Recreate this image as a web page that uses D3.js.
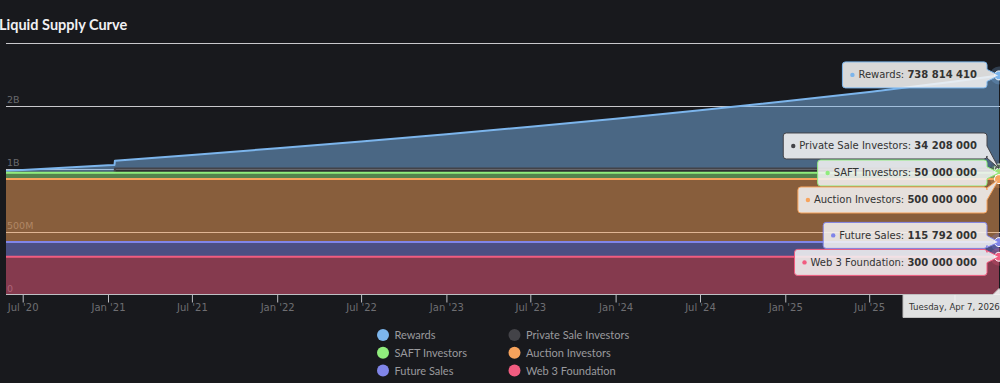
<!DOCTYPE html>
<html>
<head>
<meta charset="utf-8">
<script src="https://cdn.jsdelivr.net/npm/d3@7"></script>
<style>
  html, body { margin: 0; padding: 0; background: #18191d; }
  svg { display: block; }
</style>
</head>
<body>
<div id="chart"></div>
<script>
// series names, bottom row of legend reads left to right
var seriesNames = ["Rewards", "Private Sale Investors", "SAFT Investors",
                   "Auction Investors", "Future Sales", "Web 3 Foundation"];
var seriesColors = ["#7cb5ec", "#434348", "#90ed7d", "#f7a35c", "#8085e9", "#f15c80"];

// sample dates
var dates = ["2020-05-26", "2020-07-01", "2021-01-01", "2021-01-15", "2021-01-16",
             "2021-07-01", "2022-01-01", "2022-07-01", "2023-01-01", "2023-07-01",
             "2024-01-01", "2024-07-01", "2025-01-01", "2025-07-01", "2026-01-01",
             "2026-04-07"];

// values (tokens) at each date
var rewards      = [15e6, 22e6, 60e6, 62e6, 62e6, 108e6, 160e6, 215e6, 272e6, 332e6,
                    395e6, 462e6, 533e6, 607e6, 690e6, 738814410];
var privateSale  = [0, 0, 0, 0, 34208000, 34208000, 34208000, 34208000, 34208000, 34208000,
                    34208000, 34208000, 34208000, 34208000, 34208000, 34208000];
var saft         = [50e6, 50e6, 50e6, 50e6, 50e6, 50e6, 50e6, 50e6, 50e6, 50e6,
                    50e6, 50e6, 50e6, 50e6, 50e6, 50e6];
var auction      = [500e6, 500e6, 500e6, 500e6, 500e6, 500e6, 500e6, 500e6, 500e6, 500e6,
                    500e6, 500e6, 500e6, 500e6, 500e6, 500e6];
var futureSales  = [115792000, 115792000, 115792000, 115792000, 115792000, 115792000,
                    115792000, 115792000, 115792000, 115792000, 115792000, 115792000,
                    115792000, 115792000, 115792000, 115792000];
var web3         = [300e6, 300e6, 300e6, 300e6, 300e6, 300e6, 300e6, 300e6, 300e6, 300e6,
                    300e6, 300e6, 300e6, 300e6, 300e6, 300e6];

// y ticks and their (odd) labels as shown
var yTicks = [0, 500e6, 1e9, 1.5e9, 2e9];
var yTickLabels = ["0", "500M", "1B", "2B", ""];

var W = 1000, H = 383;
var parseDate = d3.timeParse("%Y-%m-%d");
var allValues = [rewards, privateSale, saft, auction, futureSales, web3];

// build table for stacking
var table = dates.map(function(d, i){
  var row = {date: parseDate(d)};
  seriesNames.forEach(function(n, k){ row[n] = allValues[k][i]; });
  return row;
});

var x = d3.scaleTime()
  .domain(d3.extent(table, function(d){ return d.date; }))
  .range([6, 999]);
var y = d3.scaleLinear().domain([0, 2e9]).range([294.5, 42.5]);

var svg = d3.select("#chart").append("svg")
  .attr("width", W).attr("height", H)
  .style("background", "#18191d");

// title
svg.append("text")
  .attr("x", -1).attr("y", 30)
  .attr("fill", "#f0f0f3")
  .style("font", "700 14.5px Lato, sans-serif")
  .text("Liquid Supply Curve");

// grid lines + y labels (under the areas)
var grid = svg.append("g");
grid.selectAll("line").data(yTicks).enter().append("line")
  .attr("x1", 6).attr("x2", W)
  .attr("y1", function(d){ return Math.round(y(d)) + 0.5; })
  .attr("y2", function(d){ return Math.round(y(d)) + 0.5; })
  .attr("stroke", function(d){ return d === 0 ? "none" : "#c8c8cc"; })
  .attr("stroke-width", 1);
grid.selectAll("text").data(yTicks).enter().append("text")
  .attr("x", 7).attr("y", function(d){ return y(d) - 2.5; })
  .attr("fill", "#6a6a6e")
  .style("font", "9.5px 'DejaVu Sans', sans-serif")
  .text(function(d, i){ return yTickLabels[i]; });

// stack (first series on top, like the original)
var stack = d3.stack().keys(seriesNames.slice().reverse());
var layers = stack(table);

var area = d3.area()
  .x(function(d){ return x(d.data.date); })
  .y0(function(d){ return y(d[0]); })
  .y1(function(d){ return y(d[1]); });
var line = d3.line()
  .x(function(d){ return x(d.data.date); })
  .y(function(d){ return y(d[1]); });

// draw in series order: Rewards first, Web 3 Foundation last
seriesNames.forEach(function(name, k){
  var layer = layers.filter(function(l){ return l.key === name; })[0];
  var g = svg.append("g");
  g.append("path").datum(layer)
    .attr("d", area)
    .attr("fill", seriesColors[k])
    .attr("fill-opacity", 0.5);
  g.append("path").datum(layer)
    .attr("d", line)
    .attr("fill", "none")
    .attr("stroke", seriesColors[k])
    .attr("stroke-width", 2)
    .attr("stroke-linejoin", "round");
});

// date header box sits here, labels behind it are hidden
var hx = 903, hy = 294.5;

// x axis
var xAxis = d3.axisBottom(x)
  .ticks(d3.timeMonth.filter(function(d){ return d.getMonth() % 6 === 0; }))
  .tickFormat(function(d){ return x(d) > hx ? "" : d3.timeFormat("%b '%y")(d); })
  .tickSize(8)
  .tickSizeOuter(0);
var gx = svg.append("g")
  .attr("transform", "translate(0,294.5)")
  .call(xAxis);
gx.select(".domain").attr("stroke", "#bfbfc4").attr("d", "M6,0H" + W);
gx.selectAll(".tick line").attr("stroke", "#bfbfc4");
gx.selectAll(".tick text")
  .attr("fill", "#6e6e72")
  .attr("dy", null).attr("y", 16)
  .style("font", "10px 'DejaVu Sans', sans-serif");

// hover markers at last point
var last = table.length - 1;
var points = seriesNames.map(function(name, k){
  var layer = layers.filter(function(l){ return l.key === name; })[0];
  return {name: name, color: seriesColors[k], value: allValues[k][last],
          px: x(table[last].date), py: y(layer[last][1])};
});
var mk = svg.append("g");
points.forEach(function(p){
  mk.append("circle").attr("cx", p.px).attr("cy", p.py).attr("r", 9)
    .attr("fill", p.color).attr("fill-opacity", 0.25);
  mk.append("circle").attr("cx", p.px).attr("cy", p.py).attr("r", 4.5)
    .attr("fill", p.color).attr("stroke", "#ffffff").attr("stroke-width", 1);
});

// split tooltip boxes, distributed so they don't overlap
var boxH = 26, gap = 1, boxRight = 987;
var fmt = function(v){ return d3.format(",")(Math.round(v)).replace(/,/g, " "); };
var sorted = points.slice().sort(function(a, b){ return a.py - b.py; });
var groups = [];
sorted.forEach(function(p){
  groups.push({items: [p]});
  // merge while overlapping previous group
  while (groups.length > 1) {
    var g2 = groups[groups.length - 1], g1 = groups[groups.length - 2];
    var n1 = g1.items.length, n2 = g2.items.length;
    var c1 = d3.mean(g1.items, function(d){ return d.py; });
    var c2 = d3.mean(g2.items, function(d){ return d.py; });
    var bottom1 = c1 + (n1 * (boxH + gap)) / 2;
    var top2 = c2 - (n2 * (boxH + gap)) / 2;
    if (top2 < bottom1) {
      groups.splice(groups.length - 2, 2, {items: g1.items.concat(g2.items)});
    } else break;
  }
});
groups.forEach(function(g){
  var c = d3.mean(g.items, function(d){ return d.py; });
  var n = g.items.length;
  g.items.forEach(function(p, i){
    p.cy = c - (n * (boxH + gap)) / 2 + (boxH + gap) * i + boxH / 2;
  });
});

var tip = svg.append("g");
points.forEach(function(p){
  var g = tip.append("g");
  var path = g.append("path");
  var t = g.append("text")
    .attr("y", p.cy + 3.5)
    .attr("fill", "#333333")
    .style("font", "10px 'DejaVu Sans', sans-serif");
  t.append("tspan").text(p.name + ": ");
  t.append("tspan").attr("font-weight", "bold").text(fmt(p.value));
  var tw = t.node().getComputedTextLength();
  var right = boxRight, left = right - tw - 26;
  t.attr("x", left + 16);
  g.append("circle").attr("cx", left + 10).attr("cy", p.cy).attr("r", 2.2).attr("fill", p.color);
  var top = p.cy - boxH / 2, bot = p.cy + boxH / 2;
  var a1 = Math.max(top + 1, Math.min(bot - 13, p.py - 6));
  var a2 = a1 + 12;
  path.attr("d", "M" + (left + 3) + "," + top + "H" + (right - 3) +
      "Q" + right + "," + top + " " + right + "," + (top + 3) +
      "V" + a1 + "L" + p.px + "," + p.py + "L" + right + "," + a2 +
      "V" + (bot - 3) + "Q" + right + "," + bot + " " + (right - 3) + "," + bot +
      "H" + (left + 3) + "Q" + left + "," + bot + " " + left + "," + (bot - 3) +
      "V" + (top + 3) + "Q" + left + "," + top + " " + (left + 3) + "," + top + "Z")
    .attr("fill", "#f2f2f2").attr("fill-opacity", 0.88)
    .attr("stroke", p.color).attr("stroke-width", 1);
});

// date header under the axis
var hd = svg.append("g");
var lastX = x(table[last].date);
hd.append("path")
  .attr("d", "M" + hx + "," + hy + "H" + (lastX - 6) + "L" + lastX + "," + (hy - 6) +
    "L" + (lastX + 6) + "," + hy + "H" + (hx + 130) + "V" + (hy + 23) + "H" + hx + "Z")
  .attr("fill", "#f2f2f2").attr("fill-opacity", 0.92)
  .attr("stroke", "#bfbfbf").attr("stroke-width", 1);
hd.append("text")
  .attr("x", hx + 6).attr("y", hy + 15.5)
  .attr("fill", "#333333")
  .style("font", "8.6px 'DejaVu Sans', sans-serif")
  .text(d3.timeFormat("%A, %b %-d, %Y")(table[last].date));

// legend
var legend = svg.append("g");
seriesNames.forEach(function(name, k){
  var col = k % 2, row = Math.floor(k / 2);
  var lx = col === 0 ? 383 : 514.5, ly = 335 + row * 17.8;
  legend.append("circle").attr("cx", lx).attr("cy", ly).attr("r", 6)
    .attr("fill", seriesColors[k]);
  legend.append("text")
    .attr("x", lx + 11.5).attr("y", ly + 4)
    .attr("fill", "#9a9a9e")
    .style("font", "11px Lato, sans-serif")
    .text(name);
});
</script>
</body>
</html>
